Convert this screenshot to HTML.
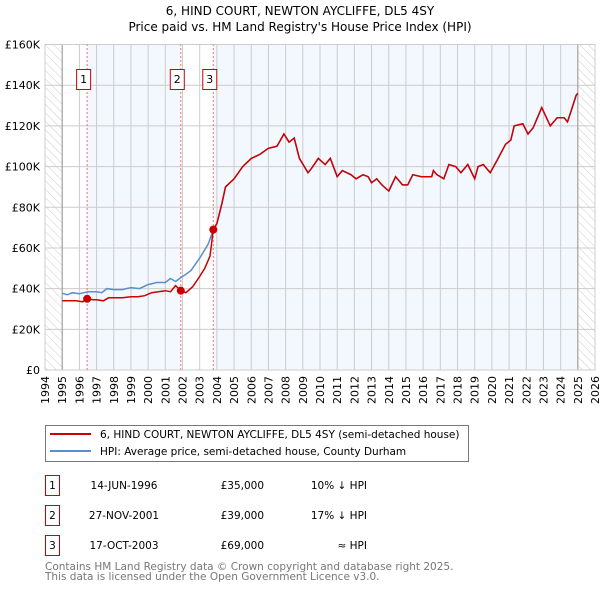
<!DOCTYPE html>
<html><head><meta charset="utf-8"><style>
body{margin:0;background:#fff;width:600px;height:590px;overflow:hidden;font-family:"DejaVu Sans","Liberation Sans",sans-serif}
svg text{font-family:"DejaVu Sans","Liberation Sans",sans-serif}
</style></head><body>
<svg id="c" width="600" height="590" viewBox="0 0 600 590" xmlns="http://www.w3.org/2000/svg">
<defs><pattern id="hatch" width="6" height="6" patternUnits="userSpaceOnUse" patternTransform="rotate(-45)"><line x1="0" y1="0" x2="0" y2="6" stroke="#ccc" stroke-width="1"/></pattern></defs>
<text x="300" y="15" text-anchor="middle" font-size="12">6, HIND COURT, NEWTON AYCLIFFE, DL5 4SY</text>
<text x="300" y="31" text-anchor="middle" font-size="12">Price paid vs. HM Land Registry's House Price Index (HPI)</text>
<g id="plot"></g>
<g>
<rect x="45.5" y="425.5" width="423" height="36" fill="#fff" stroke="#777"/>
<line x1="50" y1="434" x2="91" y2="434" stroke="#cc0000" stroke-width="2"/>
<text x="100" y="438" font-size="10.5">6, HIND COURT, NEWTON AYCLIFFE, DL5 4SY (semi-detached house)</text>
<line x1="50" y1="451" x2="91" y2="451" stroke="#5a8ed0" stroke-width="2"/>
<text x="100" y="455" font-size="10.5">HPI: Average price, semi-detached house, County Durham</text>
</g>
<g font-size="10.5">
<rect x="45.5" y="475.5" width="14" height="20" fill="#fff" stroke="#cc0000"/><text x="52.5" y="489" text-anchor="middle">1</text>
<text x="124" y="489" text-anchor="middle">14-JUN-1996</text><text x="264" y="489" text-anchor="end">£35,000</text><text x="367" y="489" text-anchor="end">10% ↓ HPI</text>
<rect x="45.5" y="505.5" width="14" height="20" fill="#fff" stroke="#cc0000"/><text x="52.5" y="519" text-anchor="middle">2</text>
<text x="124" y="519" text-anchor="middle">27-NOV-2001</text><text x="264" y="519" text-anchor="end">£39,000</text><text x="367" y="519" text-anchor="end">17% ↓ HPI</text>
<rect x="45.5" y="535.5" width="14" height="20" fill="#fff" stroke="#cc0000"/><text x="52.5" y="549" text-anchor="middle">3</text>
<text x="124" y="549" text-anchor="middle">17-OCT-2003</text><text x="264" y="549" text-anchor="end">£69,000</text><text x="367" y="549" text-anchor="end">≈ HPI</text>
</g>
<text x="45" y="570" font-size="10.5" fill="#777">Contains HM Land Registry data © Crown copyright and database right 2025.</text>
<text x="45" y="580" font-size="10.5" fill="#777">This data is licensed under the Open Government Licence v3.0.</text>
</svg>
<script>
const yTicks=[0,20,40,60,80,100,120,140,160];
const years=[1994,1995,1996,1997,1998,1999,2000,2001,2002,2003,2004,2005,2006,2007,2008,2009,2010,2011,2012,2013,2014,2015,2016,2017,2018,2019,2020,2021,2022,2023,2024,2025,2026];
const saleDates=[1996.45,2001.9,2003.79];
const salePrices=[35,39,69];
const hpiT=[1995,1995.3,1995.6,1996,1996.5,1997,1997.3,1997.6,1998,1998.5,1999,1999.5,2000,2000.5,2001,2001.3,2001.6,2002,2002.2,2002.5,2003,2003.5,2003.79,2004,2004.3,2004.5,2005,2005.5,2006,2006.5,2007,2007.5,2007.9,2008.2,2008.5,2008.8,2009.3,2009.5,2009.9,2010.3,2010.6,2011,2011.3,2011.8,2012.1,2012.5,2012.8,2013,2013.3,2013.6,2014,2014.4,2014.8,2015.1,2015.4,2015.9,2016.5,2016.6,2016.8,2017.2,2017.5,2017.9,2018.2,2018.6,2019,2019.2,2019.5,2019.9,2020.3,2020.8,2021.1,2021.3,2021.8,2022.1,2022.4,2022.9,2023.4,2023.8,2024.2,2024.4,2024.6,2024.9,2025];
const hpiV=[37.7,37,38,37.5,38.5,38.5,38,40,39.5,39.5,40.5,40,42,43,43,45,43.5,46,47,49,55,62,69,72,82,90,94,100,104,106,109,110,116,112,114,104,97,99,104,101,104,95,98,96,94,96,95,92,94,91,88,95,91,91,96,95,95,98,96,94,101,100,97,101,94,100,101,97,103,111,113,120,121,116,119,129,120,124,124,122,127,135,136];
const redT=[1995,1995.4,1995.8,1996.2,1996.45,1996.8,1997,1997.4,1997.7,1998,1998.5,1999,1999.4,1999.8,2000.2,2000.6,2001,2001.3,2001.6,2001.9,2002.2,2002.6,2003,2003.3,2003.6,2003.79];
const redV=[34,34,34,33.5,35,34.5,34.5,34,35.5,35.5,35.5,36,36,36.5,38,38.5,39,38.5,41.5,39,38,41,46,50,56,69];
const X=t=>45+(t-1994)*550/32, Y=v=>370-v*325.5/160;
const NS="http://www.w3.org/2000/svg", g=document.getElementById('plot');
function mk(tag,a,p){const e=document.createElementNS(NS,tag);for(const k in a)e.setAttribute(k,a[k]);(p||g).appendChild(e);return e;}
const bg=mk('rect',{x:X(1994),y:Y(160),width:X(2026)-X(1994),height:Y(0)-Y(160),fill:'#fff'});


mk('rect',{x:X(saleDates[0]),y:Y(160),width:X(saleDates[1])-X(saleDates[0]),height:Y(0)-Y(160),fill:'#f3f7fe'});
mk('rect',{x:X(saleDates[2]),y:Y(160),width:X(2025)-X(saleDates[2]),height:Y(0)-Y(160),fill:'#f3f7fe'});
mk('rect',{x:X(1994),y:Y(160),width:X(1995)-X(1994),height:Y(0)-Y(160),fill:'url(#hatch)'});
mk('rect',{x:X(2025),y:Y(160),width:X(2026)-X(2025),height:Y(0)-Y(160),fill:'url(#hatch)'});
years.forEach(yr=>{
 mk('line',{x1:X(yr),x2:X(yr),y1:Y(0),y2:Y(160),stroke:'#ccc'});
 const t=mk('text',{x:0,y:0,'font-size':11,'text-anchor':'end',transform:`translate(${X(yr)+4},${Y(0)+6}) rotate(-90)`});
 t.textContent=yr;
 
 
});
yTicks.forEach(v=>{
 mk('line',{x1:X(1994),x2:X(2026),y1:Y(v),y2:Y(v),stroke:'#ccc'});
 const t=mk('text',{x:40,y:Y(v)+4,'font-size':11,'text-anchor':'end'});
 t.textContent=v===0?'£0':'£'+v+'K';
 
 
});
mk('line',{x1:X(1995),x2:X(1995),y1:Y(0),y2:Y(160),stroke:'#999'});
mk('line',{x1:X(2025),x2:X(2025),y1:Y(0),y2:Y(160),stroke:'#999'});
mk('rect',{x:X(1994),y:Y(160),width:X(2026)-X(1994),height:Y(0)-Y(160),fill:'none',stroke:'#ccc'});
saleDates.forEach((d,i)=>{
 mk('line',{x1:X(d),x2:X(d),y1:Y(0),y2:Y(160),stroke:'#f07070','stroke-dasharray':'2,2'});
 const b=mk('rect',{x:X(d)-10.5,y:69.5,width:14,height:20,fill:'#fff',stroke:'#cc0000'});
 
 
 const t=mk('text',{x:X(d)-3.5,y:83,'font-size':11,'text-anchor':'middle'});t.textContent=i+1;
});
const path=(T,V)=>T.map((t,i)=>(i?'L':'M')+X(t).toFixed(1)+','+Y(V[i]).toFixed(1)).join('');
const hl=mk('path',{d:path(hpiT,hpiV),fill:'none',stroke:'#5a8ed0','stroke-width':1.5});


const i3=hpiT.indexOf(2003.79);
const rT=redT.concat(hpiT.slice(i3+1)), rV=redV.concat(hpiV.slice(i3+1));
const rl=mk('path',{d:path(rT,rV),fill:'none',stroke:'#cc0000','stroke-width':1.5});


saleDates.forEach((d,i)=>{
 const c=mk('circle',{cx:X(d),cy:Y(salePrices[i]),r:4,fill:'#cc0000'});
 
 
});
</script>
</body></html>
